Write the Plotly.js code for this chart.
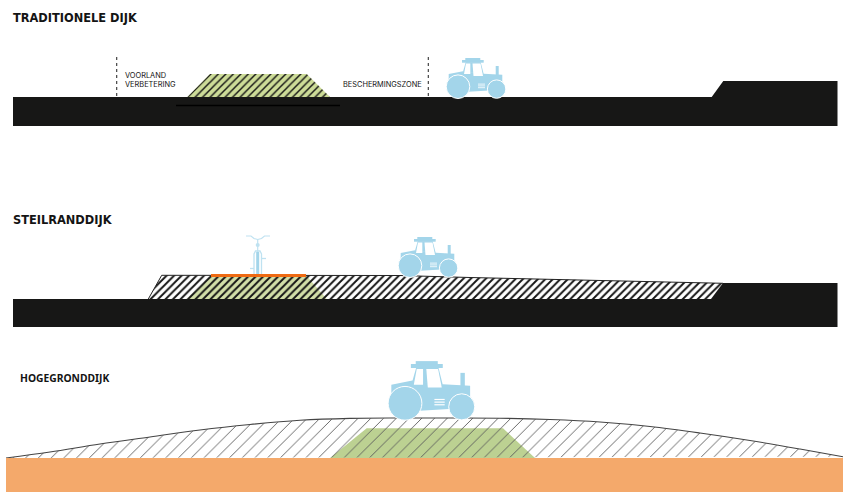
<!DOCTYPE html>
<html><head><meta charset="utf-8">
<script src="https://cdn.plot.ly/plotly-3.0.1.min.js"></script>
<style>html,body{margin:0;padding:0;background:#fff}#c{width:843px;height:492px}</style>
</head><body><div id="c"></div>
<script>
// Profile outlines, in drawing units (1 unit = 1 reference pixel)
const groundAX=[13,711.7,723.3,837.5,837.5,13], groundAY=[97,97,81,81,126,126];
const dikeAX=[187.3,210,306.7,330], dikeAY=[97,74,74,97];
const coreLineX=[176,340], coreLineY=[105.5,105.5];
const dashLeftX=[116.7,116.7], dashRightX=[428.3,428.3], dashY=[57,97];

const groundBX=[13,711,723,837.5,837.5,13], groundBY=[299,299,283,283,327,327];
const raisedBX=[148.3,161.7,400,470,723,711], raisedBY=[299,275.3,275.5,277.5,283.3,299];
const raisedBTopX=[148.3,161.7,400,470,723], raisedBTopY=[299,275.3,275.5,277.5,283.3];
const dikeBX=[186.7,211,306.7,326.7], dikeBY=[299,276,276,299];
const pathBX=[211,306,306,211], pathBY=[274,274,277,277];

const hillTopX=[6,50,100,150,200,250,300,350,400,450,500,550,600,650,700,750,800,843];
const hillTopY=[458,452,444,437,430,424.5,420.3,418.4,418,418,418.2,419.5,422,426.5,433,440.5,449,456.7];
const groundCX=[6,843,843,6], groundCY=[458,458,492,492];
const dikeCX=[330,366.7,503,535], dikeCY=[458,428.3,428.3,458];

// Tractor silhouette, relative to the rear wheel centre
const chassisU=[-9.3,5,25.7,44.3,44.3,10,-9.3], chassisV=[-12.7,-15.5,-13,-12,3,5,0];
const cabU=[5,7.7,22.7,25.7], cabV=[-15,-24.5,-24.5,-12.7];
const exhaustU=[37.7,40.7,40.7,37.7], exhaustV=[-20.7,-20.7,-11.7,-11.7];
const roofU=[4,25.7,25.7,4], roofV=[-26.7,-26.7,-24,-24];
const roofTopU=[7.3,22.3,22.3,7.3], roofTopV=[-28.7,-28.7,-26.5,-26.5];
const windowLeftU=[8,12.3,12.3,6], windowLeftV=[-23.3,-23.3,-12.7,-12.7];
const windowRightU=[14.5,22.5,25,15.5], windowRightV=[-23.3,-23.3,-10.7,-10.7];
const ventU=[20,27], ventV=[-2.6,-0.8,1];
const rearWheelR=10.8, frontWheelR=8.2, frontWheelU=38.6, frontWheelV=2.4;
const tractorX=[458,410,405], tractorY=[86.7,265.7,403.3], tractorScale=[1,1,1.47];

// Bicycle
const handlebarX=[246,251,254,257.7,261.5,264.5,270], handlebarY=[236,236,238.5,239.5,238.5,236,236];
const stemX=[257.7,257.7], stemY=[239.5,252];
const forkX=[254,254,255.5,260,261.5,261.5], forkY=[274,254,251,251,254,274];
const tyreX=[257.7,257.7], tyreY=[252,274];
const pedalX=[261.5,266], pedalY=[258.5,258.5];
const seatX=[250,254], seatY=[268.5,268.5];

// Labels
const labelText=['TRADITIONELE DIJK','VOORLAND','VERBETERING','BESCHERMINGSZONE','STEILRANDDIJK','HOGEGRONDDIJK'];
const labelX=[11,123,123,341,11,18];
const labelY=[18,75,84.5,84.5,220,377.5];
const labelSize=[11.4,7.4,7.4,7.4,11.4,10.3];
const labelWeight=[700,400,400,400,700,700];
const labelFont=['"DejaVu Sans"','Inter','Inter','Inter','"DejaVu Sans"','"Noto Sans"'];

const BLACK='#171716', BLUE='#a3d5ea', PALEBLUE='#bfe2f1', WHITE='#ffffff';
const traces=[];
function poly(x,y,color,extra){
  traces.push(Object.assign({type:'scatter',mode:'lines',x:x.concat(x[0]),y:y.concat(y[0]),fill:'toself',fillcolor:color,
    line:{width:0,color:color},hoverinfo:'skip'},extra||{}));
}
function hatch(x,y,size,solidity,fg){
  traces.push({type:'scatter',mode:'lines',x:x.concat(x[0]),y:y.concat(y[0]),fill:'toself',fillcolor:'rgba(0,0,0,0)',
    fillpattern:{shape:'/',size:size,solidity:solidity,fgcolor:fg,bgcolor:'rgba(0,0,0,0)',fgopacity:1},
    line:{width:0,color:'rgba(0,0,0,0)'},hoverinfo:'skip'});
}
function line(x,y,color,width,dash,shape){
  traces.push({type:'scatter',mode:'lines',x:x,y:y,line:{color:color,width:width,dash:dash||'solid',shape:shape||'linear'},hoverinfo:'skip'});
}
function tractor(i){
  const ox=tractorX[i],oy=tractorY[i],s=tractorScale[i];
  const X=u=>u.map(a=>ox+a*s),Y=v=>v.map(a=>oy+a*s);
  poly(X(chassisU),Y(chassisV),BLUE);
  poly(X(cabU),Y(cabV),BLUE);
  poly(X(exhaustU),Y(exhaustV),BLUE);
  poly(X(roofU),Y(roofV),BLUE);
  poly(X(roofTopU),Y(roofTopV),BLUE);
  poly(X(windowLeftU),Y(windowLeftV),WHITE);
  poly(X(windowRightU),Y(windowRightV),WHITE);
  ventV.forEach(v=>line(X(ventU),[oy+v*s,oy+v*s],WHITE,0.8*s));
  traces.push({type:'scatter',mode:'markers',x:[ox,ox+frontWheelU*s],y:[oy,oy+frontWheelV*s],
    marker:{color:BLUE,opacity:1,size:[2*rearWheelR*s+2,2*frontWheelR*s+2],line:{color:WHITE,width:1}},hoverinfo:'skip'});
}

// Traditional dike
poly(dikeAX,dikeAY,'#cddc98');
hatch(dikeAX,dikeAY,5.3,0.27,'#141414');
poly(groundAX,groundAY,BLACK);
line(coreLineX,coreLineY,'#000000',1.4);
line(dashLeftX,dashY,'#333333',1.1,'3px,3px');
line(dashRightX,dashY,'#333333',1.1,'3px,3px');
tractor(0);

// Steep-edge dike
poly(dikeBX,dikeBY,'#d3dfa8');
hatch(raisedBX,raisedBY,5.3,0.36,'#141414');
line(raisedBTopX,raisedBTopY,'#222222',1);
poly(pathBX,pathBY,'#ee6a12');
poly(groundBX,groundBY,BLACK);
line(handlebarX,handlebarY,PALEBLUE,1.2);
line(stemX,stemY,PALEBLUE,1.2);
traces.push({type:'scatter',mode:'markers',x:[257.7],y:[245],marker:{color:PALEBLUE,size:4},hoverinfo:'skip'});
line(forkX,forkY,PALEBLUE,1.3);
line(tyreX,tyreY,BLUE,3);
line(pedalX,pedalY,PALEBLUE,1.3);
line(seatX,seatY,PALEBLUE,1.3);
tractor(1);

// High-ground dike
poly(dikeCX,dikeCY,'#bcd192');
hatch(hillTopX,hillTopY,9,0.1,'#5a5a5a');
line(hillTopX,hillTopY,'#444444',1.1,'solid','spline');
poly(groundCX,groundCY,'#f4a96b');
tractor(2);

const annotations=labelText.map((t,i)=>({text:t,x:labelX[i],y:labelY[i],xref:'x',yref:'y',xanchor:'left',yanchor:'middle',showarrow:false,
  font:{family:labelFont[i]+', sans-serif',size:labelSize[i],color:'#141414',weight:labelWeight[i]}}));

Plotly.newPlot('c',traces,{
  width:843,height:492,margin:{l:0,r:0,t:0,b:0,pad:0},showlegend:false,
  paper_bgcolor:'#fff',plot_bgcolor:'#fff',
  xaxis:{range:[0,843],visible:false,fixedrange:true},
  yaxis:{range:[492,0],visible:false,fixedrange:true},
  annotations:annotations
},{staticPlot:true,displayModeBar:false});
</script></body></html>
